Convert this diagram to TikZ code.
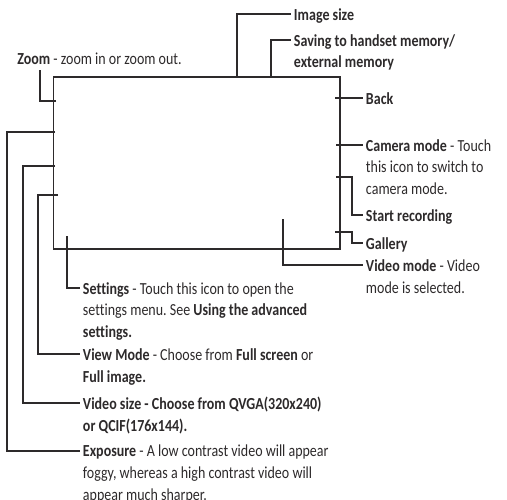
\documentclass[tikz,border=0pt]{standalone}
\usepackage{fontspec}
\setmainfont{Carlito}[FakeStretch=0.83, Ligatures={NoCommon}]
\usepackage{tikz}
\usetikzlibrary{positioning}
\definecolor{inkgray}{RGB}{45,42,43}
\frenchspacing

\begin{document}
\begin{tikzpicture}[
  x=0.02cm, y=-0.02cm,
  screen/.style={rectangle, draw=inkgray, line width=0.6pt,
    minimum width=5.74cm, minimum height=3.44cm, inner sep=0pt},
  lead/.style={draw=inkgray, line width=0.6pt},
  lbl/.style={anchor=north west, inner sep=0pt, xshift=1.5pt, yshift=3.5pt,
    align=left, text=inkgray, font=\fontsize{9.6}{12.5}\selectfont}
]
  \useasboundingbox (0,0) rectangle (507,500);
  \node[screen] (scr) at (196.5,163) {};

  % free ends of the leaders, on or inside the screen
  \coordinate (pZoom)  at (56,101);
  \coordinate (pImg)   at (237,77);
  \coordinate (pSave)  at (271,77);
  \coordinate (pBack)  at (335,98);
  \coordinate (pCam)   at (336,145);
  \coordinate (pRec)   at (336,177);
  \coordinate (pGal)   at (335,232);
  \coordinate (pVid)   at (283,219);
  \coordinate (pSet)   at (67,236);
  \coordinate (pView)  at (58,195);
  \coordinate (pSize)  at (55,166);
  \coordinate (pExp)   at (55,132);

  % label ends
  \coordinate (eZoom)  at (40,70);
  \coordinate (eImg)   at (291,14);
  \coordinate (eSave)  at (291,40);
  \coordinate (eBack)  at (363,98);
  \coordinate (eCam)   at (363,145);
  \coordinate (eRec)   at (363,215);
  \coordinate (eGal)   at (363,243);
  \coordinate (eVid)   at (363,265);
  \coordinate (eSet)   at (80,288);
  \coordinate (eView)  at (80,354);
  \coordinate (eSize)  at (80,403);
  \coordinate (eExp)   at (80,451);

  \node[anchor=base west, inner sep=0pt, text=inkgray,
    font=\fontsize{9.6}{12.5}\selectfont] (tZoom) at (17,65)
    {\textbf{Zoom} - zoom in or zoom out.};
  \node[lbl] (tImg)  at (eImg)  {\textbf{Image size}};
  \node[lbl] (tSave) at (eSave) {\textbf{Saving to handset memory/}\\\textbf{external memory}};
  \node[lbl] (tBack) at (eBack) {\textbf{Back}};
  \node[lbl] (tCam)  at (eCam)
    {\textbf{Camera mode} - Touch\\this icon to switch to\\camera mode.};
  \node[lbl] (tRec)  at (eRec)  {\textbf{Start recording}};
  \node[lbl] (tGal)  at (eGal)  {\textbf{Gallery}};
  \node[lbl] (tVid)  at (eVid)  {\textbf{Video mode} - Video\\mode is selected.};
  \node[lbl] (tSet)  at (eSet)
    {\textbf{Settings} - Touch this icon to open the\\settings menu. See \textbf{Using the advanced}\\\textbf{settings.}};
  \node[lbl] (tView) at (eView)
    {\textbf{View Mode} - Choose from \textbf{Full screen} or\\\textbf{Full image.}};
  \node[lbl] (tSize) at (eSize)
    {\textbf{Video size - Choose from QVGA(320x240)}\\\textbf{or QCIF(176x144).}};
  \node[lbl] (tExp)  at (eExp)
    {\textbf{Exposure} - A low contrast video will appear\\foggy, whereas a high contrast video will\\appear much sharper.};

  \draw[lead] (pZoom) -| (eZoom);
  \draw[lead] (pImg) |- (eImg);
  \draw[lead] (pSave) |- (eSave);
  \draw[lead] (pBack) -- (eBack);
  \draw[lead] (pCam) -- (eCam);
  \draw[lead] (pRec) -- ++(16,0) |- (eRec);
  \draw[lead] (pGal) -- ++(17,0) |- (eGal);
  \draw[lead] (pVid) |- (eVid);
  \draw[lead] (pSet) |- (eSet);
  \draw[lead] (pView) -| ++(-20,0) |- (eView);
  \draw[lead] (pSize) -- ++(-32,0) |- (eSize);
  \draw[lead] (pExp) -- ++(-48,0) |- (eExp);
\end{tikzpicture}
\end{document}
